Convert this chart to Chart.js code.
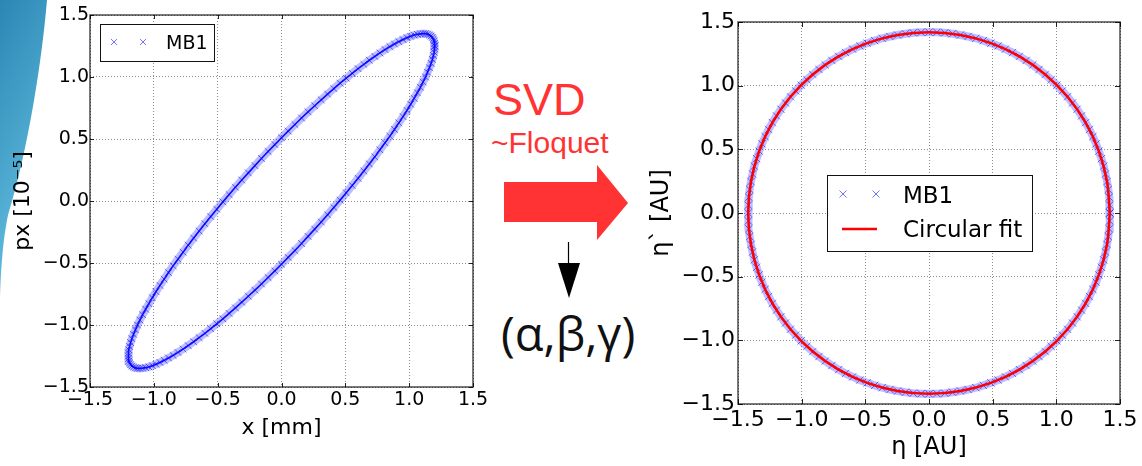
<!DOCTYPE html>
<html><head><meta charset="utf-8">
<script src="https://cdn.jsdelivr.net/npm/chart.js@4.4.1/dist/chart.umd.min.js"></script>
<style>
html,body{margin:0;padding:0;background:#fff;}
body{width:1142px;height:466px;position:relative;overflow:hidden;}
#deco{position:absolute;left:0;top:0;z-index:0;}
.box{position:absolute;top:0;height:466px;z-index:1;}
#leftBox{left:0;width:500px;}
#rightBox{left:640px;width:502px;}
</style></head><body>
<svg id="deco" width="1142" height="466">
 <defs><linearGradient id="g" x1="0" y1="0" x2="0.3" y2="1">
   <stop offset="0" stop-color="#2b86b4"/><stop offset="1" stop-color="#66c2e2"/></linearGradient></defs>
 <path d="M0,0 L47,0 C42,60 28,150 8,215 C4,235 1,260 0,300 Z" fill="url(#g)"/>
 <text x="493" y="115" font-family="Liberation Sans, Arial, sans-serif" font-size="45" fill="#ff3333">SVD</text>
 <text x="491" y="153" font-family="Liberation Sans, Arial, sans-serif" font-size="30" fill="#ff3333">~Floquet</text>
 <polygon points="504,182 597,182 597,165 628,203 597,240 597,222 504,222" fill="#ff3333"/>
 <line x1="568.5" y1="242" x2="568.5" y2="266" stroke="#000" stroke-width="1.2"/>
 <polygon points="558,263 580,263 569,298" fill="#000"/>
 <text x="501" y="351" font-family="Open Sans, sans-serif" font-size="47" fill="#111">(α,β,γ)</text>
</svg>
<div class="box" id="leftBox"><canvas id="cL" width="500" height="466"></canvas></div>
<div class="box" id="rightBox"><canvas id="cR" width="502" height="466"></canvas></div>
<script>
// ---------- data ----------
const tickVals = [-1.5, -1.0, -0.5, 0.0, 0.5, 1.0, 1.5];
const tickLabels = ['\u22121.5', '\u22121.0', '\u22120.5', '0.0', '0.5', '1.0', '1.5'];

// left panel: MB1 turn-by-turn, x [mm] vs px [1e-5]
const ellX = [1.200,1.199,1.195,1.190,1.182,1.172,1.159,1.144,1.128,1.109,1.088,1.064,1.039,1.012,0.983,0.952,0.919,0.885,0.849,0.811,0.771,0.731,0.688,0.645,0.600,0.554,0.507,0.459,0.410,0.361,0.311,0.260,0.208,0.157,0.105,0.052,0.000,-0.052,-0.105,-0.157,-0.208,-0.260,-0.311,-0.361,-0.410,-0.459,-0.507,-0.554,-0.600,-0.645,-0.688,-0.731,-0.771,-0.811,-0.849,-0.885,-0.919,-0.952,-0.983,-1.012,-1.039,-1.064,-1.088,-1.109,-1.128,-1.144,-1.159,-1.172,-1.182,-1.190,-1.195,-1.199,
-1.200,-1.199,-1.195,-1.190,-1.182,-1.172,-1.159,-1.144,-1.128,-1.109,-1.088,-1.064,-1.039,-1.012,-0.983,-0.952,-0.919,-0.885,-0.849,-0.811,-0.771,-0.731,-0.688,-0.645,-0.600,-0.554,-0.507,-0.459,-0.410,-0.361,-0.311,-0.260,-0.208,-0.157,-0.105,-0.052,0.000,0.052,0.105,0.157,0.208,0.260,0.311,0.361,0.410,0.459,0.507,0.554,0.600,0.645,0.688,0.731,0.771,0.811,0.849,0.885,0.919,0.952,0.983,1.012,1.039,1.064,1.088,1.109,1.128,1.144,1.159,1.172,1.182,1.190,1.195,1.199,1.200];
const ellY = [1.250,1.227,1.201,1.173,1.142,1.110,1.075,1.039,1.000,0.960,0.917,0.873,0.828,0.780,0.731,0.681,0.630,0.577,0.523,0.469,0.413,0.356,0.299,0.242,0.183,0.125,0.066,0.007,-0.052,-0.111,-0.169,-0.227,-0.285,-0.343,-0.399,-0.455,-0.510,-0.564,-0.617,-0.669,-0.719,-0.768,-0.816,-0.862,-0.907,-0.950,-0.990,-1.030,-1.067,-1.102,-1.135,-1.166,-1.194,-1.221,-1.245,-1.266,-1.285,-1.302,-1.317,-1.328,-1.338,-1.344,-1.348,-1.350,-1.349,-1.346,-1.339,-1.331,-1.320,-1.306,-1.290,-1.271,
-1.250,-1.227,-1.201,-1.173,-1.142,-1.110,-1.075,-1.039,-1.000,-0.960,-0.917,-0.873,-0.828,-0.780,-0.731,-0.681,-0.630,-0.577,-0.523,-0.469,-0.413,-0.356,-0.299,-0.242,-0.183,-0.125,-0.066,-0.007,0.052,0.111,0.169,0.227,0.285,0.343,0.399,0.455,0.510,0.564,0.617,0.669,0.719,0.768,0.816,0.862,0.907,0.950,0.990,1.030,1.067,1.102,1.135,1.166,1.194,1.221,1.245,1.266,1.285,1.302,1.317,1.328,1.338,1.344,1.348,1.350,1.349,1.346,1.339,1.331,1.320,1.306,1.290,1.271,1.250];

// right panel: normalised coordinates eta vs eta`
const circX = [1.420,1.419,1.415,1.408,1.398,1.386,1.372,1.354,1.334,1.312,1.287,1.260,1.230,1.198,1.163,1.127,1.088,1.047,1.004,0.959,0.913,0.864,0.815,0.763,0.710,0.656,0.600,0.543,0.486,0.427,0.368,0.307,0.247,0.185,0.124,0.062,
0.000,-0.062,-0.124,-0.185,-0.247,-0.307,-0.368,-0.427,-0.486,-0.543,-0.600,-0.656,-0.710,-0.763,-0.815,-0.864,-0.913,-0.959,-1.004,-1.047,-1.088,-1.127,-1.163,-1.198,-1.230,-1.260,-1.287,-1.312,-1.334,-1.354,-1.372,-1.386,-1.398,-1.408,-1.415,-1.419,
-1.420,-1.419,-1.415,-1.408,-1.398,-1.386,-1.372,-1.354,-1.334,-1.312,-1.287,-1.260,-1.230,-1.198,-1.163,-1.127,-1.088,-1.047,-1.004,-0.959,-0.913,-0.864,-0.815,-0.763,-0.710,-0.656,-0.600,-0.543,-0.486,-0.427,-0.368,-0.307,-0.247,-0.185,-0.124,-0.062,
0.000,0.062,0.124,0.185,0.247,0.307,0.368,0.427,0.486,0.543,0.600,0.656,0.710,0.763,0.815,0.864,0.913,0.959,1.004,1.047,1.088,1.127,1.163,1.198,1.230,1.260,1.287,1.312,1.334,1.354,1.372,1.386,1.398,1.408,1.415,1.419,1.420];
const circY = [0.000,0.062,0.124,0.185,0.247,0.307,0.368,0.427,0.486,0.543,0.600,0.656,0.710,0.763,0.815,0.864,0.913,0.959,1.004,1.047,1.088,1.127,1.163,1.198,1.230,1.260,1.287,1.312,1.334,1.354,1.372,1.386,1.398,1.408,1.415,1.419,
1.420,1.419,1.415,1.408,1.398,1.386,1.372,1.354,1.334,1.312,1.287,1.260,1.230,1.198,1.163,1.127,1.088,1.047,1.004,0.959,0.913,0.864,0.815,0.763,0.710,0.656,0.600,0.543,0.486,0.427,0.368,0.307,0.247,0.185,0.124,0.062,
0.000,-0.062,-0.124,-0.185,-0.247,-0.307,-0.368,-0.427,-0.486,-0.543,-0.600,-0.656,-0.710,-0.763,-0.815,-0.864,-0.913,-0.959,-1.004,-1.047,-1.088,-1.127,-1.163,-1.198,-1.230,-1.260,-1.287,-1.312,-1.334,-1.354,-1.372,-1.386,-1.398,-1.408,-1.415,-1.419,
-1.420,-1.419,-1.415,-1.408,-1.398,-1.386,-1.372,-1.354,-1.334,-1.312,-1.287,-1.260,-1.230,-1.198,-1.163,-1.127,-1.088,-1.047,-1.004,-0.959,-0.913,-0.864,-0.815,-0.763,-0.710,-0.656,-0.600,-0.543,-0.486,-0.427,-0.368,-0.307,-0.247,-0.185,-0.124,-0.062,0.000];
const fitX = [1.420,1.398,1.334,1.230,1.088,0.913,0.710,0.486,0.247,0.000,-0.247,-0.486,-0.710,-0.913,-1.088,-1.230,-1.334,-1.398,-1.420,-1.398,-1.334,-1.230,-1.088,-0.913,-0.710,-0.486,-0.247,0.000,0.247,0.486,0.710,0.913,1.088,1.230,1.334,1.398,1.420];
const fitY = [0.000,0.247,0.486,0.710,0.913,1.088,1.230,1.334,1.398,1.420,1.398,1.334,1.230,1.088,0.913,0.710,0.486,0.247,0.000,-0.247,-0.486,-0.710,-0.913,-1.088,-1.230,-1.334,-1.398,-1.420,-1.398,-1.334,-1.230,-1.088,-0.913,-0.710,-0.486,-0.247,0.000];

const seriesLeft = 'MB1';
const seriesRight = ['MB1', 'Circular fit'];

// ---------- chart helpers ----------
Chart.defaults.font.family = "'DejaVu Sans', sans-serif";
Chart.defaults.color = '#000';
const pts = (xs, ys) => xs.map((v, i) => ({x: v, y: ys[i]}));

function axis(isX, fontSize, pad, title, titleSize, titlePad, fixed) {
  return {
    type: 'linear', min: -1.5, max: 1.5,
    afterBuildTicks: s => { s.ticks = tickVals.map(v => ({value: v})); },
    afterFit: s => { if (isX) s.height = fixed; else s.width = fixed; },
    ticks: { autoSkip: false, maxRotation: 0, padding: pad, color: '#000',
             font: {size: fontSize, lineHeight: 1.2}, callback: (v, i) => tickLabels[i] },
    grid: { color: 'rgba(0,0,0,0.45)', lineWidth: 1, drawTicks: false },
    border: { display: false, dash: [1, 2] },
    title: { display: true, text: title, color: '#000', font: {size: titleSize, lineHeight: 1.2}, padding: titlePad }
  };
}

const mplPlugin = {
  id: 'mpl',
  afterDraw(chart, args, o) {
    const {ctx, chartArea: a} = chart;
    const x = chart.scales.x, y = chart.scales.y;
    ctx.save();
    ctx.strokeStyle = '#222'; ctx.lineWidth = 1;
    ctx.beginPath();
    x.ticks.forEach((t, i) => { const p = Math.round(x.getPixelForTick(i)) + 0.5;
      ctx.moveTo(p, a.bottom); ctx.lineTo(p, a.bottom - o.tick); ctx.moveTo(p, a.top); ctx.lineTo(p, a.top + o.tick); });
    y.ticks.forEach((t, i) => { const p = Math.round(y.getPixelForTick(i)) + 0.5;
      ctx.moveTo(a.left, p); ctx.lineTo(a.left + o.tick, p); ctx.moveTo(a.right, p); ctx.lineTo(a.right - o.tick, p); });
    ctx.stroke();
    ctx.strokeStyle = 'rgba(0,0,0,0.7)'; ctx.lineWidth = 1.5;
    ctx.strokeRect(a.left, a.top, a.right - a.left, a.bottom - a.top);
    // legend
    const L = o.legend;
    const bx = Math.round(a.left + L.dx), by = Math.round(a.top + L.dy);
    ctx.fillStyle = '#fff'; ctx.fillRect(bx, by, L.w, L.h);
    ctx.strokeStyle = '#111'; ctx.lineWidth = 1; ctx.strokeRect(bx + 0.5, by + 0.5, L.w, L.h);
    ctx.font = L.fontSize + "px 'DejaVu Sans'"; ctx.textBaseline = 'alphabetic'; ctx.textAlign = 'left';
    L.items.forEach(it => {
      const ds = chart.data.datasets[it.ds];
      const cy = by + it.cy;
      if (it.kind === 'marker') {
        ctx.strokeStyle = ds.pointBorderColor; ctx.lineWidth = 1;
        it.mx.forEach(mx => { const cx = bx + mx, r = it.r; ctx.beginPath();
          ctx.moveTo(cx - r, cy - r); ctx.lineTo(cx + r, cy + r); ctx.moveTo(cx - r, cy + r); ctx.lineTo(cx + r, cy - r); ctx.stroke(); });
      } else {
        ctx.strokeStyle = ds.borderColor; ctx.lineWidth = ds.borderWidth;
        ctx.beginPath(); ctx.moveTo(bx + it.x0, cy); ctx.lineTo(bx + it.x1, cy); ctx.stroke();
      }
      ctx.fillStyle = '#000'; ctx.fillText(ds.label, bx + it.tx, by + it.base);
    });
    ctx.restore();
  }
};

// ---------- left chart ----------
const ellPts = pts(ellX, ellY);
new Chart(document.getElementById('cL'), {
  type: 'scatter',
  data: { datasets: [
    { label: seriesLeft, data: ellPts, showLine: false, pointStyle: 'crossRot', pointRadius: 4.8,
      pointBorderWidth: 1, pointBorderColor: 'rgba(0,0,255,0.55)', pointBackgroundColor: 'rgba(0,0,0,0)', order: 2 },
    { label: '', data: ellPts, showLine: true, borderColor: 'rgba(50,50,255,0.32)', borderWidth: 8, pointRadius: 0, order: 3 },
    { label: '', data: ellPts, showLine: true, borderColor: 'rgba(0,0,255,0.9)', borderWidth: 1.6, pointRadius: 0, order: 1 }
  ]},
  options: {
    responsive: false, animation: false, events: [],
    layout: { padding: {left: 0, top: 15, right: 27, bottom: 0} },
    plugins: { legend: {display: false}, tooltip: {enabled: false},
      mpl: { tick: 4, legend: { dx: 10, dy: 9, w: 114, h: 37, fontSize: 19,
        items: [ {kind: 'marker', ds: 0, mx: [14, 43], cy: 18, r: 3, tx: 66, base: 25} ] } } },
    scales: {
      x: axis(true, 19, 2, 'x [mm]', 22, {top: 0, bottom: 25}, 79),
      y: axis(false, 19, 1, 'px [10\u207B\u2075]', 22, {top: 10, bottom: 0}, 90)
    }
  },
  plugins: [mplPlugin]
});

// ---------- right chart ----------
const circPts = pts(circX, circY);
new Chart(document.getElementById('cR'), {
  type: 'scatter',
  data: { datasets: [
    { label: seriesRight[0], data: circPts, showLine: false, pointStyle: 'crossRot', pointRadius: 5.2,
      pointBorderWidth: 1, pointBorderColor: 'rgba(0,0,255,0.55)', pointBackgroundColor: 'rgba(0,0,0,0)', order: 2 },
    { label: seriesRight[1], data: pts(fitX, fitY), showLine: true, borderColor: '#ff0000', borderWidth: 2.6,
      pointRadius: 0, tension: 0.35, order: 1 },
    { label: '', data: circPts, showLine: true, borderColor: 'rgba(50,50,255,0.32)', borderWidth: 8, pointRadius: 0, order: 3 }
  ]},
  options: {
    responsive: false, animation: false, events: [],
    layout: { padding: {left: 0, top: 22, right: 22, bottom: 0} },
    plugins: { legend: {display: false}, tooltip: {enabled: false},
      mpl: { tick: 5, legend: { dx: 89, dy: 153, w: 205, h: 76, fontSize: 23,
        items: [ {kind: 'marker', ds: 0, mx: [16, 49], cy: 19, r: 3.5, tx: 76, base: 28},
                 {kind: 'line', ds: 1, x0: 15, x1: 50, cy: 54, tx: 76, base: 62} ] } } },
    scales: {
      x: axis(true, 22, 3, '\u03B7 [AU]', 24, {top: 0, bottom: 4}, 62),
      y: axis(false, 22, 3, '\u03B7` [AU]', 24, {top: 7, bottom: 0}, 98)
    }
  },
  plugins: [mplPlugin]
});
</script>
</body></html>
